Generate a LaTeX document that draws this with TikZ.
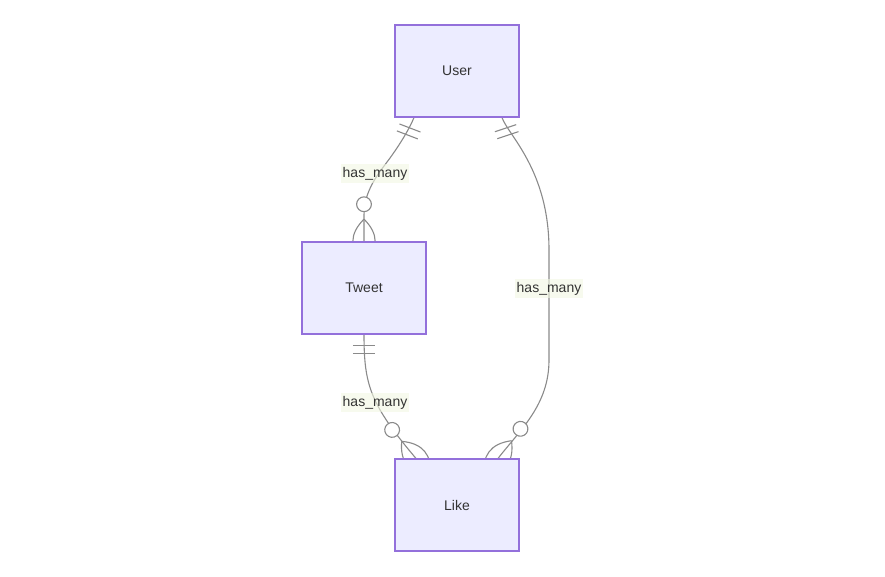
\documentclass[tikz,border=0pt]{standalone}
\usepackage{fontspec}
\setmainfont{Liberation Sans}
\usetikzlibrary{backgrounds}
\definecolor{boxfill}{HTML}{ECECFF}
\definecolor{boxline}{HTML}{9370DB}
\definecolor{txt}{HTML}{333333}
\definecolor{edgec}{HTML}{8A8A8A}
\definecolor{lblbg}{HTML}{F2F7E2}
\tikzset{
  entity/.style={draw=boxline, fill=boxfill, line width=1.1pt, minimum width=124pt, minimum height=92pt, inner sep=0pt, text=txt, font=\fontsize{14pt}{16pt}\selectfont},
  lbl/.style={fill=lblbg, fill opacity=0.6, text opacity=1, text=txt, inner xsep=1.5pt, inner ysep=3pt, font=\fontsize{14pt}{16pt}\selectfont},
  rel/.style={draw=edgec, line width=1.1pt},
  onlyone/.pic={\draw[rel] (11.2,-11.2) -- (11.2,11.2) (18.6,-11.2) -- (18.6,11.2);},
  zmany/.pic={
    \draw[rel] (-22.3,0) .. controls (-7.43,14.87) and (7.43,14.87) .. (22.3,0)
               .. controls (7.43,-14.87) and (-7.43,-14.87) .. (-22.3,0);
    \draw[rel, fill=white] (-37.2,0) circle (7.4);}
}
\begin{document}
\begin{tikzpicture}[x=1pt,y=1pt]
\useasboundingbox (0,0) rectangle (885,-577);
\node[entity] (user) at (457,-71) {User};
\node[entity] (tweet) at (364,-288) {Tweet};
\node[entity] (like) at (457,-505) {Like};
\coordinate (e1s) at ([xshift=-43pt]user.south);
\coordinate (e1t) at (tweet.north);
\coordinate (e2s) at ([xshift=45pt]user.south);
\coordinate (e2t) at ([xshift=41pt]like.north);
\coordinate (e3s) at (tweet.south);
\coordinate (e3t) at ([xshift=-41pt]like.north);
\begin{scope}[on background layer]
\draw[rel] (e1s) .. controls (409,-130) and (398,-147) .. (390,-158)
   .. controls (379,-173) and (364,-190) .. (364,-215) -- (e1t);
\draw[rel] (e2s) .. controls (508,-135) and (549,-170) .. (549,-250) -- (549,-360)
   .. controls (549,-405) and (520,-430) .. (e2t);
\draw[rel] (e3s) .. controls (364,-385) and (370,-404) .. (e3t);
\pic[rotate=-111] at (e1s) {onlyone};
\pic[rotate=-90] at (e1t) {zmany};
\pic[rotate=-71.6] at (e2s) {onlyone};
\pic[rotate=-127.2] at (e2t) {zmany};
\pic[rotate=-90] at (e3s) {onlyone};
\pic[rotate=-50.1] at (e3t) {zmany};
\end{scope}
\node[lbl] (l1) at (375,-173.5) {has\_many};
\node[lbl] (l2) at (549,-288.5) {has\_many};
\node[lbl] (l3) at (375,-402.5) {has\_many};
\end{tikzpicture}
\end{document}
